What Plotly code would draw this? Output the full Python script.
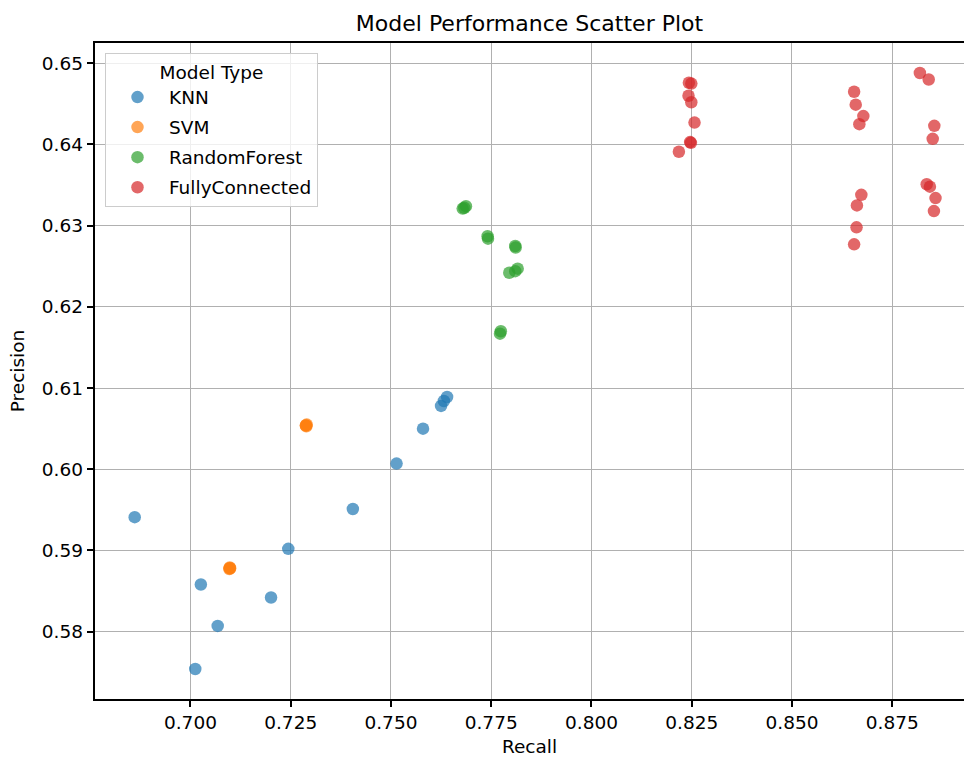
import plotly.graph_objects as go

# ---- data ----
knn_recall = [0.6861, 0.7012, 0.7026, 0.7068, 0.7201, 0.7244, 0.7405, 0.7514, 0.7580, 0.7625, 0.7632, 0.7640]
knn_precision = [0.5941, 0.5754, 0.5858, 0.5807, 0.5842, 0.5902, 0.5951, 0.6007, 0.6050, 0.6078, 0.6084, 0.6089]

svm_recall = [0.7288, 0.7289, 0.7290, 0.7288, 0.7098, 0.7097, 0.7099, 0.7098]
svm_precision = [0.6054, 0.6053, 0.6055, 0.6054, 0.5878, 0.5877, 0.5878, 0.5879]

rf_recall = [0.7679, 0.7687, 0.7683, 0.7741, 0.7742, 0.7810, 0.7811, 0.7795, 0.7816, 0.7810, 0.7774, 0.7772]
rf_precision = [0.6321, 0.6324, 0.6322, 0.6287, 0.6284, 0.6275, 0.6273, 0.6242, 0.6247, 0.6244, 0.6170, 0.6167]

fc_recall = [0.8243, 0.8249, 0.8242, 0.8249, 0.8257, 0.8246, 0.8248, 0.8218,
             0.8655, 0.8659, 0.8678, 0.8668, 0.8673, 0.8662, 0.8661, 0.8655,
             0.8819, 0.8841, 0.8855, 0.8851, 0.8836, 0.8844, 0.8858, 0.8854]
fc_precision = [0.6476, 0.6475, 0.6460, 0.6452, 0.6427, 0.6403, 0.6402, 0.6391,
                0.6465, 0.6449, 0.6435, 0.6425, 0.6338, 0.6325, 0.6298, 0.6277,
                0.6488, 0.6480, 0.6423, 0.6407, 0.6351, 0.6348, 0.6334, 0.6318]

model_names = ["KNN", "SVM", "RandomForest", "FullyConnected"]
model_colors = ["#1f77b4", "#ff7f0e", "#2ca02c", "#d62728"]
series = [(knn_recall, knn_precision), (svm_recall, svm_precision),
          (rf_recall, rf_precision), (fc_recall, fc_precision)]

x_ticks = [0.700, 0.725, 0.750, 0.775, 0.800, 0.825, 0.850, 0.875]
y_ticks = [0.58, 0.59, 0.60, 0.61, 0.62, 0.63, 0.64, 0.65]

FONT = "DejaVu Sans"
FS = 18.5

fig = go.Figure()
for name, color, (xs, ys) in zip(model_names, model_colors, series):
    fig.add_trace(go.Scatter(
        x=xs, y=ys, mode="markers", name=name, legendgroup=name,
        marker=dict(color=color, size=12.5, opacity=0.7, line=dict(width=0)),
    ))

axis_common = dict(
    showgrid=True, gridcolor="#b0b0b0", gridwidth=1,
    showline=True, linecolor="black", linewidth=1.5,
    ticks="outside", ticklen=6.5, tickwidth=1.5, tickcolor="black",
    zeroline=False, tickfont=dict(family=FONT, size=FS, color="black"),
)

fig.update_layout(
    width=964, height=763,
    margin=dict(l=95, r=0, t=43, b=64),
    paper_bgcolor="white", plot_bgcolor="white",
    font=dict(family=FONT, size=FS, color="black"),
    title=dict(text="Model Performance Scatter Plot", x=0.5, xref="paper",
               y=1 - 23 / 763, yref="container", xanchor="center", yanchor="middle",
               font=dict(family=FONT, size=22, color="black")),
    xaxis=dict(range=[0.6762, 0.8929], tickvals=x_ticks, tickformat=".3f",
               mirror=True,
               title=dict(text="Recall", standoff=8, font=dict(family=FONT, size=FS)),
               **axis_common),
    yaxis=dict(range=[0.5717, 0.6525], tickvals=y_ticks, tickformat=".2f",
               mirror=False,
               title=dict(text="Precision", standoff=12, font=dict(family=FONT, size=FS)),
               **axis_common),
    legend=dict(
        x=0.0115, y=0.984, xanchor="left", yanchor="top",
        bgcolor="rgba(255,255,255,0.8)", bordercolor="#cccccc", borderwidth=1,
        font=dict(family=FONT, size=FS, color="black"),
        title=dict(text="Model Type", side="top center",
                   font=dict(family=FONT, size=FS, color="black")),
        tracegroupgap=3, itemwidth=53,
    ),
)

fig.write_html("out.html")
